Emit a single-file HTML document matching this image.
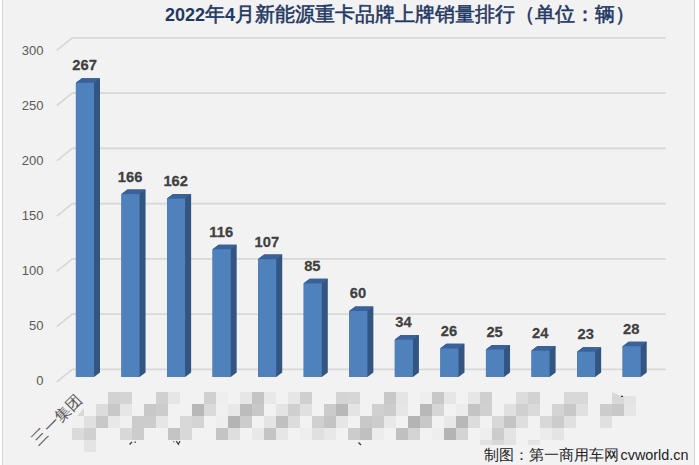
<!DOCTYPE html>
<html><head><meta charset="utf-8"><style>
html,body{margin:0;padding:0;background:#fff;}
body{width:699px;height:465px;overflow:hidden;position:relative;}
svg{position:absolute;left:0;top:0;display:block;}
text{font-family:"Liberation Sans",sans-serif;}
</style></head><body>
<svg width="699" height="465" viewBox="0 0 699 465">
<rect x="0" y="0" width="699" height="465" fill="#ffffff"/>
<rect x="2" y="0" width="693" height="465" fill="#f2f2f2"/>
<rect x="2" y="0" width="1" height="465" fill="#d4d4d4"/>
<rect x="694" y="0" width="1" height="465" fill="#d4d4d4"/>
<g fill="none" stroke="#d8d8d8" stroke-width="1.8">
<path d="M56.8 50.30 L72.3 37.80 L666 37.80"/>
<path d="M56.8 105.57 L72.3 93.07 L666 93.07"/>
<path d="M56.8 160.83 L72.3 148.33 L666 148.33"/>
<path d="M56.8 216.10 L72.3 203.60 L666 203.60"/>
<path d="M56.8 271.37 L72.3 258.87 L666 258.87"/>
<path d="M56.8 326.63 L72.3 314.13 L666 314.13"/>
<path d="M56.8 381.90 L72.3 369.40 L666 369.40"/>
</g>
<g font-size="13" fill="#595959" text-anchor="end">
<text x="43.5" y="55.00">300</text>
<text x="43.5" y="110.00">250</text>
<text x="43.5" y="165.00">200</text>
<text x="43.5" y="220.00">150</text>
<text x="43.5" y="275.00">100</text>
<text x="43.5" y="330.00">50</text>
<text x="43.5" y="385.00">0</text>
</g>
<g>
<polygon points="75.90,82.79 81.90,78.29 100.00,78.29 100.00,372.50 94.00,377.00 75.90,377.00" fill="#335581"/>
<polygon points="75.90,82.79 94.40,82.79 100.00,78.29 81.90,78.29" fill="#3a6299"/>
<rect x="75.90" y="82.79" width="18.1" height="294.21" fill="#4f81bd"/>
<polygon points="121.46,194.08 127.46,189.58 145.56,189.58 145.56,372.50 139.56,377.00 121.46,377.00" fill="#335581"/>
<polygon points="121.46,194.08 139.96,194.08 145.56,189.58 127.46,189.58" fill="#3a6299"/>
<rect x="121.46" y="194.08" width="18.1" height="182.92" fill="#4f81bd"/>
<polygon points="167.02,198.49 173.02,193.99 191.12,193.99 191.12,372.50 185.12,377.00 167.02,377.00" fill="#335581"/>
<polygon points="167.02,198.49 185.52,198.49 191.12,193.99 173.02,193.99" fill="#3a6299"/>
<rect x="167.02" y="198.49" width="18.1" height="178.51" fill="#4f81bd"/>
<polygon points="212.58,249.18 218.58,244.68 236.68,244.68 236.68,372.50 230.68,377.00 212.58,377.00" fill="#335581"/>
<polygon points="212.58,249.18 231.08,249.18 236.68,244.68 218.58,244.68" fill="#3a6299"/>
<rect x="212.58" y="249.18" width="18.1" height="127.82" fill="#4f81bd"/>
<polygon points="258.14,259.10 264.14,254.60 282.24,254.60 282.24,372.50 276.24,377.00 258.14,377.00" fill="#335581"/>
<polygon points="258.14,259.10 276.64,259.10 282.24,254.60 264.14,254.60" fill="#3a6299"/>
<rect x="258.14" y="259.10" width="18.1" height="117.90" fill="#4f81bd"/>
<polygon points="303.70,283.34 309.70,278.84 327.80,278.84 327.80,372.50 321.80,377.00 303.70,377.00" fill="#335581"/>
<polygon points="303.70,283.34 322.20,283.34 327.80,278.84 309.70,278.84" fill="#3a6299"/>
<rect x="303.70" y="283.34" width="18.1" height="93.66" fill="#4f81bd"/>
<polygon points="349.26,310.89 355.26,306.39 373.36,306.39 373.36,372.50 367.36,377.00 349.26,377.00" fill="#335581"/>
<polygon points="349.26,310.89 367.76,310.89 373.36,306.39 355.26,306.39" fill="#3a6299"/>
<rect x="349.26" y="310.89" width="18.1" height="66.11" fill="#4f81bd"/>
<polygon points="394.82,339.54 400.82,335.04 418.92,335.04 418.92,372.50 412.92,377.00 394.82,377.00" fill="#335581"/>
<polygon points="394.82,339.54 413.32,339.54 418.92,335.04 400.82,335.04" fill="#3a6299"/>
<rect x="394.82" y="339.54" width="18.1" height="37.46" fill="#4f81bd"/>
<polygon points="440.38,348.35 446.38,343.85 464.48,343.85 464.48,372.50 458.48,377.00 440.38,377.00" fill="#335581"/>
<polygon points="440.38,348.35 458.88,348.35 464.48,343.85 446.38,343.85" fill="#3a6299"/>
<rect x="440.38" y="348.35" width="18.1" height="28.65" fill="#4f81bd"/>
<polygon points="485.94,349.45 491.94,344.95 510.04,344.95 510.04,372.50 504.04,377.00 485.94,377.00" fill="#335581"/>
<polygon points="485.94,349.45 504.44,349.45 510.04,344.95 491.94,344.95" fill="#3a6299"/>
<rect x="485.94" y="349.45" width="18.1" height="27.55" fill="#4f81bd"/>
<polygon points="531.50,350.55 537.50,346.05 555.60,346.05 555.60,372.50 549.60,377.00 531.50,377.00" fill="#335581"/>
<polygon points="531.50,350.55 550.00,350.55 555.60,346.05 537.50,346.05" fill="#3a6299"/>
<rect x="531.50" y="350.55" width="18.1" height="26.45" fill="#4f81bd"/>
<polygon points="577.06,351.66 583.06,347.16 601.16,347.16 601.16,372.50 595.16,377.00 577.06,377.00" fill="#335581"/>
<polygon points="577.06,351.66 595.56,351.66 601.16,347.16 583.06,347.16" fill="#3a6299"/>
<rect x="577.06" y="351.66" width="18.1" height="25.34" fill="#4f81bd"/>
<polygon points="622.62,346.15 628.62,341.65 646.72,341.65 646.72,372.50 640.72,377.00 622.62,377.00" fill="#335581"/>
<polygon points="622.62,346.15 641.12,346.15 646.72,341.65 628.62,341.65" fill="#3a6299"/>
<rect x="622.62" y="346.15" width="18.1" height="30.85" fill="#4f81bd"/>
</g>
<g font-size="15.5" font-weight="bold" fill="#404040" stroke="#404040" stroke-width="0.25" text-anchor="middle">
<text transform="translate(84.55 70.39) scale(0.95 1)">267</text>
<text transform="translate(130.11 181.68) scale(0.95 1)">166</text>
<text transform="translate(175.67 186.09) scale(0.95 1)">162</text>
<text transform="translate(221.23 236.78) scale(0.95 1)">116</text>
<text transform="translate(266.79 246.70) scale(0.95 1)">107</text>
<text transform="translate(312.35 270.94) scale(0.95 1)">85</text>
<text transform="translate(357.91 298.49) scale(0.95 1)">60</text>
<text transform="translate(403.47 327.14) scale(0.95 1)">34</text>
<text transform="translate(449.03 335.95) scale(0.95 1)">26</text>
<text transform="translate(494.59 337.05) scale(0.95 1)">25</text>
<text transform="translate(540.15 338.15) scale(0.95 1)">24</text>
<text transform="translate(585.71 339.26) scale(0.95 1)">23</text>
<text transform="translate(631.27 333.75) scale(0.95 1)">28</text>
</g>
<text x="165" y="21.2" font-weight="bold" fill="#1f3864"><tspan font-size="18">2022</tspan><tspan font-size="19.6" font-weight="normal" stroke="#1f3864" stroke-width="0.55">年</tspan><tspan font-size="18">4</tspan><tspan font-size="19.6" font-weight="normal" stroke="#1f3864" stroke-width="0.55">月新能源重卡品牌上牌销量排行（单位：辆）</tspan></text>
<text transform="translate(83.5,400.5) rotate(-45)" font-size="15.6" fill="#595959" text-anchor="end">三一集团</text>
<g>
<rect x="108" y="392" width="12" height="12" fill="#d2d2d2"/>
<rect x="120" y="392" width="12" height="12" fill="#d4d4d4"/>
<rect x="156" y="392" width="12" height="12" fill="#d0d0d0"/>
<rect x="168" y="392" width="12" height="12" fill="#e6e6e6"/>
<rect x="204" y="392" width="12" height="12" fill="#d0d0d0"/>
<rect x="216" y="392" width="12" height="12" fill="#eeeeee"/>
<rect x="240" y="392" width="12" height="12" fill="#e6e6e6"/>
<rect x="252" y="392" width="12" height="12" fill="#c4c4c4"/>
<rect x="264" y="392" width="12" height="12" fill="#e8e8e8"/>
<rect x="288" y="392" width="12" height="12" fill="#e6e6e6"/>
<rect x="300" y="392" width="12" height="12" fill="#cfcfcf"/>
<rect x="336" y="392" width="12" height="12" fill="#d4d4d4"/>
<rect x="348" y="392" width="12" height="12" fill="#d6d6d6"/>
<rect x="384" y="392" width="12" height="12" fill="#c8c8c8"/>
<rect x="396" y="392" width="12" height="12" fill="#e4e4e4"/>
<rect x="420" y="392" width="12" height="12" fill="#eeeeee"/>
<rect x="432" y="392" width="12" height="12" fill="#c8c8c8"/>
<rect x="444" y="392" width="12" height="12" fill="#e6e6e6"/>
<rect x="468" y="392" width="12" height="12" fill="#e6e6e6"/>
<rect x="480" y="392" width="12" height="12" fill="#cfcfcf"/>
<rect x="516" y="392" width="12" height="12" fill="#dcdcdc"/>
<rect x="528" y="392" width="12" height="12" fill="#d2d2d2"/>
<rect x="564" y="392" width="12" height="12" fill="#d8d8d8"/>
<rect x="576" y="392" width="12" height="12" fill="#d8d8d8"/>
<rect x="96" y="404" width="12" height="12" fill="#dcdcdc"/>
<rect x="108" y="404" width="12" height="12" fill="#c8c8c8"/>
<rect x="120" y="404" width="12" height="12" fill="#e6e6e6"/>
<rect x="144" y="404" width="12" height="12" fill="#c8c8c8"/>
<rect x="156" y="404" width="12" height="12" fill="#cccccc"/>
<rect x="192" y="404" width="12" height="12" fill="#b8b8b8"/>
<rect x="204" y="404" width="12" height="12" fill="#dadada"/>
<rect x="216" y="404" width="12" height="12" fill="#f0f0f0"/>
<rect x="228" y="404" width="12" height="12" fill="#e8e8e8"/>
<rect x="240" y="404" width="12" height="12" fill="#bcbcbc"/>
<rect x="252" y="404" width="12" height="12" fill="#c8c8c8"/>
<rect x="276" y="404" width="12" height="12" fill="#e4e4e4"/>
<rect x="288" y="404" width="12" height="12" fill="#cfcfcf"/>
<rect x="300" y="404" width="12" height="12" fill="#e0e0e0"/>
<rect x="324" y="404" width="12" height="12" fill="#cbcbcb"/>
<rect x="336" y="404" width="12" height="12" fill="#b8b8b8"/>
<rect x="348" y="404" width="12" height="12" fill="#e4e4e4"/>
<rect x="372" y="404" width="12" height="12" fill="#d0d0d0"/>
<rect x="384" y="404" width="12" height="12" fill="#cccccc"/>
<rect x="396" y="404" width="12" height="12" fill="#e6e6e6"/>
<rect x="420" y="404" width="12" height="12" fill="#b8b8b8"/>
<rect x="432" y="404" width="12" height="12" fill="#d6d6d6"/>
<rect x="456" y="404" width="12" height="12" fill="#ececec"/>
<rect x="468" y="404" width="12" height="12" fill="#c4c4c4"/>
<rect x="480" y="404" width="12" height="12" fill="#d0d0d0"/>
<rect x="504" y="404" width="12" height="12" fill="#e0e0e0"/>
<rect x="516" y="404" width="12" height="12" fill="#d0d0d0"/>
<rect x="528" y="404" width="12" height="12" fill="#dadada"/>
<rect x="552" y="404" width="12" height="12" fill="#d4d4d4"/>
<rect x="564" y="404" width="12" height="12" fill="#c8c8c8"/>
<rect x="576" y="404" width="12" height="12" fill="#e0e0e0"/>
<rect x="600" y="404" width="12" height="12" fill="#cccccc"/>
<rect x="612" y="404" width="12" height="12" fill="#c8c8c8"/>
<rect x="624" y="404" width="12" height="12" fill="#e6e6e6"/>
<rect x="72" y="416" width="12" height="12" fill="#f0f0f0"/>
<rect x="84" y="416" width="12" height="12" fill="#e0e0e0"/>
<rect x="96" y="416" width="12" height="12" fill="#c8c8c8"/>
<rect x="108" y="416" width="12" height="12" fill="#e8e8e8"/>
<rect x="120" y="416" width="12" height="12" fill="#f0f0f0"/>
<rect x="132" y="416" width="12" height="12" fill="#cccccc"/>
<rect x="144" y="416" width="12" height="12" fill="#cccccc"/>
<rect x="156" y="416" width="12" height="12" fill="#e6e6e6"/>
<rect x="180" y="416" width="12" height="12" fill="#d8d8d8"/>
<rect x="192" y="416" width="12" height="12" fill="#d4d4d4"/>
<rect x="216" y="416" width="12" height="12" fill="#eeeeee"/>
<rect x="228" y="416" width="12" height="12" fill="#b4b4b4"/>
<rect x="240" y="416" width="12" height="12" fill="#cccccc"/>
<rect x="264" y="416" width="12" height="12" fill="#e4e4e4"/>
<rect x="276" y="416" width="12" height="12" fill="#c0c0c0"/>
<rect x="288" y="416" width="12" height="12" fill="#dcdcdc"/>
<rect x="312" y="416" width="12" height="12" fill="#d0d0d0"/>
<rect x="324" y="416" width="12" height="12" fill="#c4c4c4"/>
<rect x="336" y="416" width="12" height="12" fill="#e6e6e6"/>
<rect x="360" y="416" width="12" height="12" fill="#c8c8c8"/>
<rect x="372" y="416" width="12" height="12" fill="#cccccc"/>
<rect x="384" y="416" width="12" height="12" fill="#e8e8e8"/>
<rect x="408" y="416" width="12" height="12" fill="#b4b4b4"/>
<rect x="420" y="416" width="12" height="12" fill="#c8c8c8"/>
<rect x="444" y="416" width="12" height="12" fill="#e8e8e8"/>
<rect x="456" y="416" width="12" height="12" fill="#b8b8b8"/>
<rect x="468" y="416" width="12" height="12" fill="#dcdcdc"/>
<rect x="492" y="416" width="12" height="12" fill="#d8d8d8"/>
<rect x="504" y="416" width="12" height="12" fill="#c4c4c4"/>
<rect x="516" y="416" width="12" height="12" fill="#dedede"/>
<rect x="540" y="416" width="12" height="12" fill="#d8d8d8"/>
<rect x="552" y="416" width="12" height="12" fill="#cccccc"/>
<rect x="564" y="416" width="12" height="12" fill="#e0e0e0"/>
<rect x="600" y="416" width="12" height="12" fill="#e0e0e0"/>
<rect x="72" y="428" width="12" height="12" fill="#dadada"/>
<rect x="84" y="428" width="12" height="12" fill="#d0d0d0"/>
<rect x="120" y="428" width="12" height="12" fill="#d8d8d8"/>
<rect x="132" y="428" width="12" height="12" fill="#cccccc"/>
<rect x="168" y="428" width="12" height="12" fill="#c4c4c4"/>
<rect x="180" y="428" width="12" height="12" fill="#d8d8d8"/>
<rect x="216" y="428" width="12" height="12" fill="#c4c4c4"/>
<rect x="228" y="428" width="12" height="12" fill="#dedede"/>
<rect x="252" y="428" width="12" height="12" fill="#e8e8e8"/>
<rect x="264" y="428" width="12" height="12" fill="#c4c4c4"/>
<rect x="276" y="428" width="12" height="12" fill="#e6e6e6"/>
<rect x="300" y="428" width="12" height="12" fill="#eeeeee"/>
<rect x="312" y="428" width="12" height="12" fill="#e0e0e0"/>
<rect x="324" y="428" width="12" height="12" fill="#e8e8e8"/>
<rect x="348" y="428" width="12" height="12" fill="#cccccc"/>
<rect x="360" y="428" width="12" height="12" fill="#c0c0c0"/>
<rect x="372" y="428" width="12" height="12" fill="#ececec"/>
<rect x="396" y="428" width="12" height="12" fill="#c0c0c0"/>
<rect x="408" y="428" width="12" height="12" fill="#d4d4d4"/>
<rect x="432" y="428" width="12" height="12" fill="#eeeeee"/>
<rect x="444" y="428" width="12" height="12" fill="#b4b4b4"/>
<rect x="456" y="428" width="12" height="12" fill="#d4d4d4"/>
<rect x="480" y="428" width="12" height="12" fill="#eeeeee"/>
<rect x="492" y="428" width="12" height="12" fill="#cccccc"/>
<rect x="504" y="428" width="12" height="12" fill="#e4e4e4"/>
<rect x="540" y="428" width="12" height="12" fill="#ececec"/>
<rect x="552" y="428" width="12" height="12" fill="#e4e4e4"/>
<rect x="84" y="440" width="12" height="12" fill="#e4e4e4"/>
<rect x="480" y="440" width="12" height="5" fill="#e2e2e2"/>
<rect x="492" y="440" width="12" height="5" fill="#d8d8d8"/>
<rect x="504" y="440" width="12" height="5" fill="#e2e2e2"/>
<rect x="528" y="440" width="12" height="5" fill="#e4e4e4"/>
<polygon points="84,408 84,416 77,416" fill="#d8d8d8"/>
<polygon points="612,392 622,396.5 624,396 624,404 612,404" fill="#d8d8d8"/>
<rect x="624" y="396" width="12" height="8" fill="#e4e4e4"/>
<g stroke="#383838" stroke-width="1.2" fill="none"><path d="M621 396.3 h2"/><path d="M129.6 444.5 L132 441.8"/><path d="M134.5 442.2 h1.5"/><path d="M173.8 441.3 v1"/><path d="M176.3 441 L178.3 444.2 L180 441"/><path d="M358.5 442.5 L361 445"/></g>
</g>
<text x="484" y="459.8" font-size="15" fill="#222222">制图：第一商用车网<tspan dx="-2.5" font-size="14.4"> cvworld.cn</tspan></text>
</svg>
</body></html>
